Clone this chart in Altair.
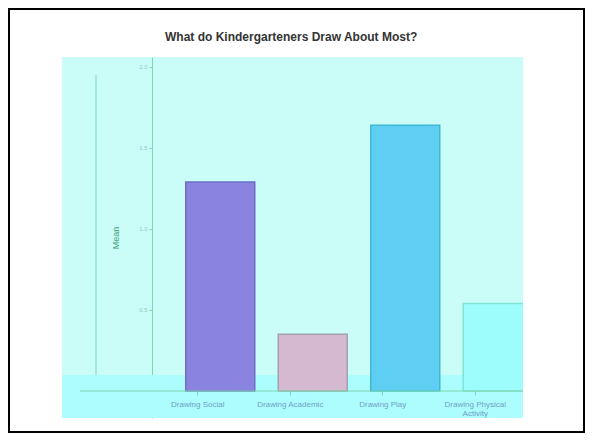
import altair as alt
import pandas as pd

# ---- data ----
categories = ["Drawing Social", "Drawing Academic", "Drawing Play", "Drawing Physical Activity"]
means = [1.29, 0.35, 1.64, 0.54]
bar_colors = ["#8a84e0", "#d5b9d0", "#5ecef3", "#9dfdfc"]
stroke_colors = ["#6f6fc4", "#a3a0b0", "#3fb9d4", "#7fe3d6"]
y_ticks = [0, 0.5, 1.0, 1.5, 2.0]
title_text = ["What do Kindergarteners Draw About Most?"]

df = pd.DataFrame({"Type": categories, "Mean": means})
one = pd.DataFrame({"k": [0]})
title_df = pd.DataFrame({"t": title_text})

W, H = 461, 361
FONT = "Liberation Sans"
axis_green = "#7fd8b0"

x_enc = alt.X(
    "Type:N",
    sort=categories,
    title=None,
    scale=alt.Scale(range=[112, 482], paddingInner=0.254, paddingOuter=0.127),
    axis=alt.Axis(
        offset=-27,
        zindex=1,
        domain=False,
        tickOffset=-23,
        labelAngle=0,
        labelFontSize=8,
        labelColor="#6f9fc6",
        labelPadding=5,
        labelLineHeight=9,
        tickColor=axis_green,
        tickSize=4,
        labelExpr="datum.label == 'Drawing Physical Activity' ? ['Drawing Physical', 'Activity'] : datum.label",
    ),
)
y_enc = alt.Y(
    "Mean:Q",
    scale=alt.Scale(domain=[-0.1667, 2.0617], nice=False, zero=False),
    axis=alt.Axis(
        offset=-90,
        values=y_ticks,
        format=".1f",
        grid=False,
        labelFontSize=6,
        labelColor="#9cc8b4",
        labelPadding=2,
        domainColor=axis_green,
        tickColor=axis_green,
        tickSize=3,
        title="Mean",
        titleColor="#3f9f70",
        titleFontSize=9,
        titleFontWeight="normal",
        titlePadding=18,
    ),
)

strip = alt.Chart(one).mark_rect(color="#acfdfd").encode(
    x=alt.value(0), x2=alt.value(W), y=alt.value(318), y2=alt.value(H)
)
vline = alt.Chart(one).mark_rule(color=axis_green, strokeWidth=1).encode(
    x=alt.value(34), y=alt.value(18), y2=alt.value(318)
)
baseline = alt.Chart(one).mark_rule(color=axis_green, strokeWidth=1).encode(
    x=alt.value(18), x2=alt.value(W), y=alt.value(334)
)
bars = alt.Chart(df).mark_bar(strokeWidth=1.5, clip=True).encode(
    x=x_enc,
    y=y_enc,
    color=alt.Color("Type:N", scale=alt.Scale(domain=categories, range=bar_colors), legend=None),
    stroke=alt.Stroke("Type:N", scale=alt.Scale(domain=categories, range=stroke_colors), legend=None),
)
frame = alt.Chart(one).mark_rect(fillOpacity=0, stroke="black", strokeWidth=2).encode(
    x=alt.value(-53), x2=alt.value(W + 62 - 1), y=alt.value(-48), y2=alt.value(H + 15 - 1)
)
title = alt.Chart(title_df).mark_text(
    align="left", baseline="alphabetic", fontSize=12, fontWeight="bold", color="#333333", font=FONT
).encode(text="t:N", x=alt.value(103), y=alt.value(-16))

chart = (
    alt.layer(strip, vline, bars, baseline, frame, title)
    .properties(
        width=W,
        height=H,
        autosize=alt.AutoSizeParams(type="none"),
        padding={"left": 54, "top": 49, "right": 62, "bottom": 15},
        background="white",
    )
    .configure(font=FONT)
    .configure_view(fill="#cbfdf8", strokeWidth=0)
)

chart.save("out.html", embed_options={"renderer": "svg", "actions": False})
